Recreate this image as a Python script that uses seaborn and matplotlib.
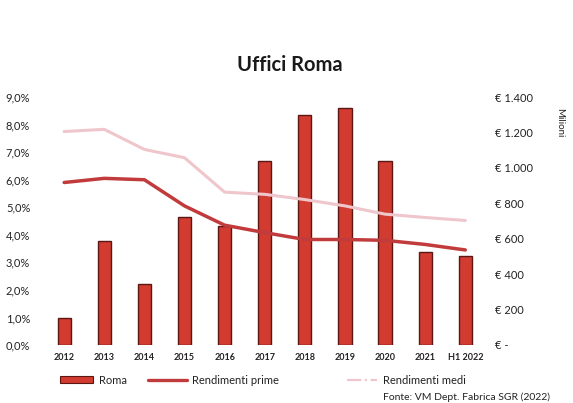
import matplotlib
matplotlib.use("Agg")
import matplotlib.pyplot as plt
import seaborn as sns
import pandas as pd
from matplotlib.patches import Patch
from matplotlib.lines import Line2D
from matplotlib.ticker import FuncFormatter

# Office market, Rome
years = ["2012", "2013", "2014", "2015", "2016", "2017", "2018", "2019", "2020", "2021", "H1 2022"]
roma_volumes = [150, 590, 345, 725, 670, 1040, 1300, 1340, 1040, 525, 500]          # € million
rendimenti_prime = [5.9, 6.05, 6.0, 5.05, 4.35, 4.08, 3.83, 3.83, 3.8, 3.65, 3.45]  # %
rendimenti_medi = [7.75, 7.83, 7.1, 6.8, 5.55, 5.47, 5.28, 5.05, 4.75, 4.63, 4.52]  # %
legend_labels = ["Roma", "Rendimenti prime", "Rendimenti medi"]

bar_color = "#d13b30"
bar_edge = "#5c1712"
prime_color = "#c23b3c"
medi_color = "#efc6cb"
text_color = "#222222"

sns.set_theme(style="white")
plt.rcParams["font.family"] = ["Lato", "DejaVu Sans"]

df = pd.DataFrame({"anno": years, "roma": roma_volumes,
                   "prime": rendimenti_prime, "medi": rendimenti_medi})

fig = plt.figure(figsize=(5.73, 4.03), dpi=100)
ax = fig.add_axes([0.077, 0.144, 0.77, 0.615])

# Volumes as bars, read on the right-hand axis
sns.barplot(data=df, x="anno", y="roma", color=bar_color, width=0.33,
            saturation=1, edgecolor=bar_edge, linewidth=1.0, ax=ax)
ax.set_ylim(0, 1400)
ax.set_yticks(range(0, 1401, 200))

def euro_fmt(v, _):
    if v == 0:
        return "€ -"
    return "€ " + f"{int(v):,}".replace(",", ".")

ax.yaxis.set_major_formatter(FuncFormatter(euro_fmt))
ax.set_xlabel("")
ax.set_ylabel("")

# Yields as lines, read on the left-hand axis
axl = ax.twinx()
sns.lineplot(data=df, x="anno", y="medi", color=medi_color, linewidth=2.2,
             sort=False, ax=axl)
sns.lineplot(data=df, x="anno", y="prime", color=prime_color, linewidth=2.5,
             sort=False, ax=axl)
axl.set_ylim(0, 9)
axl.set_yticks(range(0, 10))
axl.yaxis.set_major_formatter(FuncFormatter(lambda v, _: f"{v:.1f}%".replace(".", ",")))
axl.set_ylabel("")
axl.set_xlabel("")
axl.set_xlim(-0.5, len(years) - 0.5)

# swap sides: percentages on the left, euros on the right
axl.yaxis.tick_left()
ax.yaxis.tick_right()

for a in (ax, axl):
    for s in a.spines.values():
        s.set_visible(False)
    a.grid(False)
    a.tick_params(length=0)

ax.tick_params(axis="x", labelsize=6.5, pad=6, colors=text_color)
ax.tick_params(axis="y", labelsize=8, pad=7, colors=text_color)
axl.tick_params(axis="y", labelsize=8, pad=10, colors=text_color)
for lbl in ax.get_xticklabels():
    lbl.set_fontweight("bold")

fig.text(0.977, 0.695, "Milioni", rotation=270, ha="center", va="center",
         fontsize=7, color=text_color)

fig.text(0.505, 0.838, "Uffici Roma", ha="center", va="center",
         fontsize=14.5, fontweight="bold", color="#1a1a1a")

handles = [
    Patch(facecolor=bar_color, edgecolor=bar_edge, linewidth=0.8),
    Line2D([], [], color=prime_color, linewidth=2.4),
    Line2D([], [], color=medi_color, linewidth=1.6, linestyle="-."),
]
legend_x = [60 / 573, 148 / 573, 347 / 573]
handle_len = [3.0, 3.5, 2.7]
for h, lab, x, hl in zip(handles, legend_labels, legend_x, handle_len):
    leg = fig.legend([h], [lab], loc="center left", bbox_to_anchor=(x, 0.057),
                     frameon=False, fontsize=8, handlelength=hl, handleheight=0.6,
                     handletextpad=0.5, borderpad=0, borderaxespad=0)
    for t in leg.get_texts():
        t.set_color(text_color)

fig.text(0.668, 0.003, "Fonte: VM Dept. Fabrica SGR (2022)", ha="left", va="bottom",
         fontsize=7.5, color=text_color)

fig.savefig("out.png", dpi=100)
